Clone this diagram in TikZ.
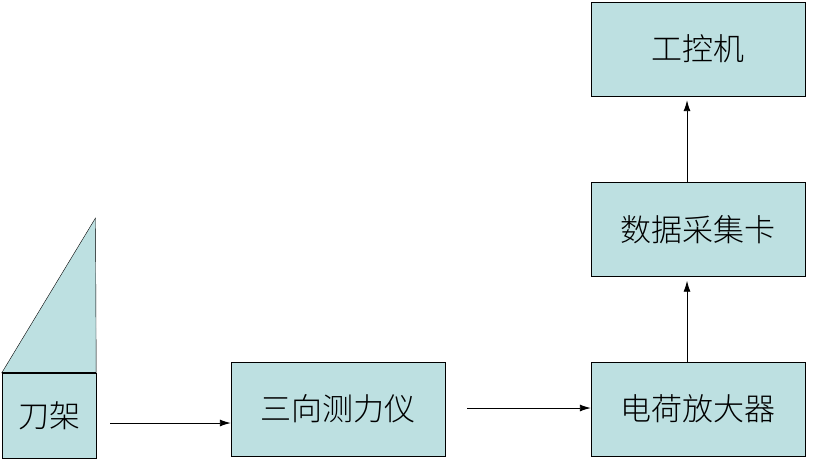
\documentclass[tikz,border=0pt]{standalone}
\usepackage{fontspec}
\newfontfamily\cjk{Noto Sans CJK SC Light}
\usetikzlibrary{arrows.meta}
\definecolor{boxfill}{HTML}{BDE0E1}
\tikzset{
  unit/.style={
    draw,
    fill=boxfill,
    minimum width=214pt,
    minimum height=94pt,
    inner sep=0pt,
    font=\cjk\fontsize{31}{31}\selectfont
  },
  link/.style={-{Latex[length=11pt,width=7pt]}, line width=0.9pt}
}
\begin{document}
\begin{tikzpicture}[x=1pt,y=-1pt]
    \useasboundingbox (0,0) rectangle (813,465);
    \node[unit] (ipc) at (698,49) {工控机};
    \node[unit] (daq) at (698,229.5) {数据采集卡};
    \node[unit] (amp) at (698,409) {电荷放大器};
    \node[unit] (dyn) at (338,409) {三向测力仪};
    \node[unit,minimum width=94pt,minimum height=85pt] (holder) at (49,415.5) {刀架};
    % tool wedge on the holder
    \draw[fill=boxfill] (holder.north west) -- (95.5,218) -- (holder.north east) -- cycle;
    \draw[line width=2pt] (holder.north west) -- (holder.north east);
    \draw[link] (110,423) -- (dyn.west |- 0,423);
    \draw[link] (467,408) -- (amp.west |- 0,408);
    \draw[link] (amp.north -| 687,0) -- ([yshift=-4pt]daq.south -| 687,0);
    \draw[link] (daq.north -| 687,0) -- ([yshift=-4pt]ipc.south -| 687,0);
\end{tikzpicture}
\end{document}
